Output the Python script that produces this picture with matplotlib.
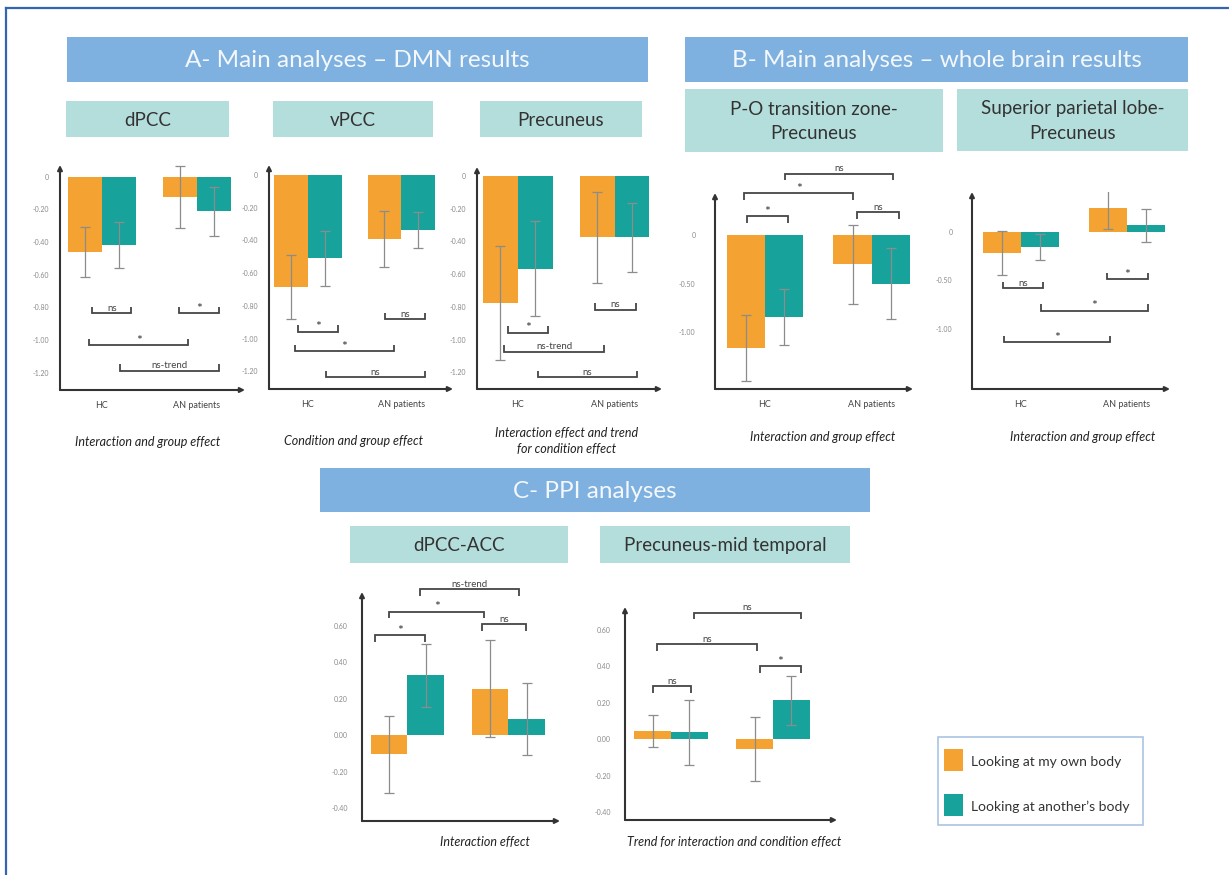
import matplotlib.pyplot as plt
from matplotlib.patches import Rectangle

W, H = 1229, 875
ORANGE = '#F4A232'
TEAL = '#17A39B'
HEAD_BLUE = '#7EB1DF'
SUB_TEAL = '#B4DEDB'
LINE = '#454545'
ERR = '#8C8C8C'

plt.rcParams['font.family'] = ['Lato', 'DejaVu Sans']

groups = ['HC', 'AN patients']
legend_labels = ['Looking at my own body', 'Looking at another\u2019s body']

# mean beta per group (HC, AN patients), own body vs another's body
dpcc_own, dpcc_own_err = [-0.46, -0.125], [0.155, 0.19]
dpcc_other, dpcc_other_err = [-0.42, -0.21], [0.14, 0.15]

vpcc_own, vpcc_own_err = [-0.685, -0.39], [0.195, 0.17]
vpcc_other, vpcc_other_err = [-0.51, -0.336], [0.17, 0.11]

prec_own, prec_own_err = [-0.775, -0.375], [0.35, 0.28]
prec_other, prec_other_err = [-0.565, -0.375], [0.29, 0.21]

po_own, po_own_err = [-1.16, -0.30], [0.34, 0.41]
po_other, po_other_err = [-0.845, -0.50], [0.29, 0.365]

spl_own, spl_own_err = [-0.22, 0.245], [0.225, 0.22]
spl_other, spl_other_err = [-0.16, 0.065], [0.135, 0.17]

acc_own, acc_own_err = [-0.106, 0.255], [0.213, 0.266]
acc_other, acc_other_err = [0.328, 0.088], [0.173, 0.20]

mt_own, mt_own_err = [0.045, -0.052], [0.09, 0.175]
mt_other, mt_other_err = [0.038, 0.212], [0.178, 0.135]

# significance brackets: (x start, x end, y, label)
dpcc_sig = [(-0.105, 0.31, -0.837, 'ns'), (0.81, 1.235, -0.837, '*'),
            (-0.137, 0.91, -1.031, '*'), (0.19, 1.235, -1.188, 'ns-trend')]
vpcc_sig = [(-0.104, 0.324, -0.956, '*'), (0.827, 1.251, -0.881, 'ns'),
            (-0.142, 0.92, -1.076, '*'), (0.193, 1.254, -1.235, 'ns')]
prec_sig = [(-0.101, 0.308, -0.956, '*'), (0.80, 1.22, -0.818, 'ns'),
            (-0.14, 0.895, -1.072, 'ns-trend'), (0.205, 1.233, -1.23, 'ns')]
po_sig = [(-0.171, 0.218, 0.196, '*'), (-0.197, 0.827, 0.436, '*'),
          (0.864, 1.257, 0.24, 'ns'), (0.187, 1.2, 0.636, 'ns')]
spl_sig = [(-0.171, 0.209, -0.582, 'ns'), (0.811, 1.197, -0.49, '*'),
           (0.19, 1.197, -0.812, '*'), (-0.162, 0.842, -1.14, '*')]
acc_sig = [(-0.322, 0.174, 0.547, '*'), (-0.18, 0.762, 0.675, '*'),
           (0.736, 1.174, 0.608, 'ns'), (0.124, 1.109, 0.80, 'ns-trend')]
mt_sig = [(-0.18, 0.193, 0.29, 'ns'), (-0.14, 0.842, 0.52, 'ns'),
          (0.867, 1.274, 0.40, '*'), (0.226, 1.274, 0.693, 'ns')]

a_ticks = [0, -0.2, -0.4, -0.6, -0.8, -1.0, -1.2]
a_ticklabels = ['0', '-0.20', '-0.40', '-0.60', '-0.80', '-1.00', '-1.20']
b_ticks = [0, -0.5, -1.0]
b_ticklabels = ['0', '-0.50', '-1.00']
c_ticks = [0.6, 0.4, 0.2, 0.0, -0.2, -0.4]
c_ticklabels = ['0.60', '0.40', '0.20', '0.00', '-0.20', '-0.40']

BAR_W = 0.36

fig = plt.figure(figsize=(W / 100, H / 100), dpi=100)
bg = fig.add_axes([0, 0, 1, 1])
bg.set_xlim(0, W)
bg.set_ylim(H, 0)
bg.axis('off')


def panel_axes(left, top, right, bottom):
    ax = fig.add_axes([left / W, 1 - bottom / H, (right - left) / W, (bottom - top) / H])
    ax.set_facecolor('none')
    return ax


def bracket(ax, x1, x2, y, label, up):
    y0, y1 = ax.get_ylim()
    ppu = ax.get_position().height * H / (y1 - y0)
    h = 6.5 / ppu
    yt = y - h if up else y + h
    ax.plot([x1, x1, x2, x2], [yt, y, y, yt], color=LINE, lw=1.3, clip_on=False,
            solid_joinstyle='miter', solid_capstyle='butt')
    if label == '*':
        ax.text((x1 + x2) / 2, y - 1.5 / ppu, label, ha='center', va='bottom',
                fontsize=10, color='#333333')
    else:
        ax.text((x1 + x2) / 2, y + 0.5 / ppu, label, ha='center', va='bottom',
                fontsize=7, color='#444444')


def draw_panel(ax, own, own_err, other, other_err, sig, xlim, ylim, ticks, ticklabels,
               up=False, show_groups=True, pad=8):
    ax.set_xlim(*xlim)
    ax.set_ylim(*ylim)
    x = [0, 1]
    xo = [i - BAR_W / 2 for i in x]
    xt = [i + BAR_W / 2 for i in x]
    ax.bar(xo, own, width=BAR_W, color=ORANGE, zorder=2)
    ax.bar(xt, other, width=BAR_W, color=TEAL, zorder=2)
    ax.errorbar(xo, own, yerr=own_err, fmt='none', ecolor=ERR, elinewidth=0.9, capsize=3.5, capthick=0.9, zorder=3)
    ax.errorbar(xt, other, yerr=other_err, fmt='none', ecolor=ERR, elinewidth=0.9, capsize=3.5, capthick=0.9, zorder=3)
    for s in ax.spines.values():
        s.set_visible(False)
    arrow = dict(arrowstyle='-|>', color='#333333', lw=1.5, mutation_scale=7, shrinkA=0, shrinkB=0)
    ax.annotate('', xy=(0, 1), xytext=(0, 0), xycoords='axes fraction', arrowprops=arrow)
    ax.annotate('', xy=(1, 0), xytext=(0, 0), xycoords='axes fraction', arrowprops=arrow)
    ax.set_yticks(ticks)
    ax.set_yticklabels(ticklabels)
    ax.tick_params(axis='y', length=0, labelsize=5, labelcolor='#8A8A8A', pad=pad)
    if show_groups:
        ax.set_xticks(x)
        ax.set_xticklabels(groups)
        ax.tick_params(axis='x', length=0, labelsize=6.5, labelcolor='#444444', pad=8)
    else:
        ax.set_xticks([])
    for x1, x2, y, label in sig:
        bracket(ax, x1, x2, y, label, up)


ax = panel_axes(60, 165, 245, 390)
draw_panel(ax, dpcc_own, dpcc_own_err, dpcc_other, dpcc_other_err, dpcc_sig,
           (-0.442, 1.505), (-1.306, 0.072), a_ticks, a_ticklabels)
ax = panel_axes(269, 165, 453, 389)
draw_panel(ax, vpcc_own, vpcc_own_err, vpcc_other, vpcc_other_err, vpcc_sig,
           (-0.417, 1.554), (-1.307, 0.061), a_ticks, a_ticklabels)
ax = panel_axes(477, 167, 662, 389)
draw_panel(ax, prec_own, prec_own_err, prec_other, prec_other_err, prec_sig,
           (-0.422, 1.491), (-1.301, 0.055), a_ticks, a_ticklabels)
ax = panel_axes(715, 193, 913, 389)
draw_panel(ax, po_own, po_own_err, po_other, po_other_err, po_sig,
           (-0.468, 1.386), (-1.584, 0.437), b_ticks, b_ticklabels, up=True, pad=14)
ax = panel_axes(972, 192, 1170, 389)
draw_panel(ax, spl_own, spl_own_err, spl_other, spl_other_err, spl_sig,
           (-0.459, 1.406), (-1.62, 0.41), b_ticks, b_ticklabels, pad=14)
ax = panel_axes(362, 592, 560, 821)
draw_panel(ax, acc_own, acc_own_err, acc_other, acc_other_err, acc_sig,
           (-0.448, 1.51), (-0.471, 0.784), c_ticks, c_ticklabels, up=True, show_groups=False, pad=10)
ax = panel_axes(625, 607, 837, 820)
draw_panel(ax, mt_own, mt_own_err, mt_other, mt_other_err, mt_sig,
           (-0.452, 1.627), (-0.443, 0.724), c_ticks, c_ticklabels, up=True, show_groups=False, pad=10)

# outer frame (top and left edges)
bg.plot([6, W], [8, 8], color='#3565B0', lw=1.6)
bg.plot([6, 6], [8, H], color='#3565B0', lw=1.6)

# section headers
headers = [
    (67, 37, 648, 82, 'A- Main analyses \u2013 DMN results'),
    (685, 37, 1188, 82, 'B- Main analyses \u2013 whole brain results'),
    (320, 468, 870, 512, 'C- PPI analyses'),
]
for x0, y0, x1, y1, txt in headers:
    bg.add_patch(Rectangle((x0, y0), x1 - x0, y1 - y0, color=HEAD_BLUE, lw=0))
    bg.text((x0 + x1) / 2, (y0 + y1) / 2 + 1, txt, ha='center', va='center',
            fontsize=17.5, color='#F4F7FB')

subheaders = [
    (66, 101, 229, 137, 'dPCC'),
    (273, 101, 433, 137, 'vPCC'),
    (480, 101, 642, 137, 'Precuneus'),
    (685, 89, 943, 152, 'P-O transition zone-\nPrecuneus'),
    (957, 89, 1188, 151, 'Superior parietal lobe-\nPrecuneus'),
    (350, 526, 568, 563, 'dPCC-ACC'),
    (600, 526, 850, 563, 'Precuneus-mid temporal'),
]
for x0, y0, x1, y1, txt in subheaders:
    bg.add_patch(Rectangle((x0, y0), x1 - x0, y1 - y0, color=SUB_TEAL, lw=0))
    bg.text((x0 + x1) / 2, (y0 + y1) / 2 + 1, txt, ha='center', va='center',
            fontsize=13.5, color='#333333', linespacing=1.55)

captions = [
    (148, 442, 'Interaction and group effect'),
    (353, 441, 'Condition and group effect'),
    (567, 441, 'Interaction effect and trend\nfor condition effect'),
    (823, 437, 'Interaction and group effect'),
    (1083, 437, 'Interaction and group effect'),
    (485, 842, 'Interaction effect'),
    (734, 842, 'Trend for interaction and condition effect'),
]
for cx, cy, txt in captions:
    bg.text(cx, cy, txt, ha='center', va='center', fontsize=9, style='italic',
            color='#222222', linespacing=1.4)

# legend
bg.add_patch(Rectangle((938, 737), 205, 88, facecolor='white', edgecolor='#A9C4E4', lw=1.2))
for (yy, col), lab in zip([(749, ORANGE), (794, TEAL)], legend_labels):
    bg.add_patch(Rectangle((944, yy), 19, 22, color=col, lw=0))
    bg.text(971, yy + 13, lab, ha='left', va='center', fontsize=10, color='#333333')

fig.savefig('out.png', dpi=100)
